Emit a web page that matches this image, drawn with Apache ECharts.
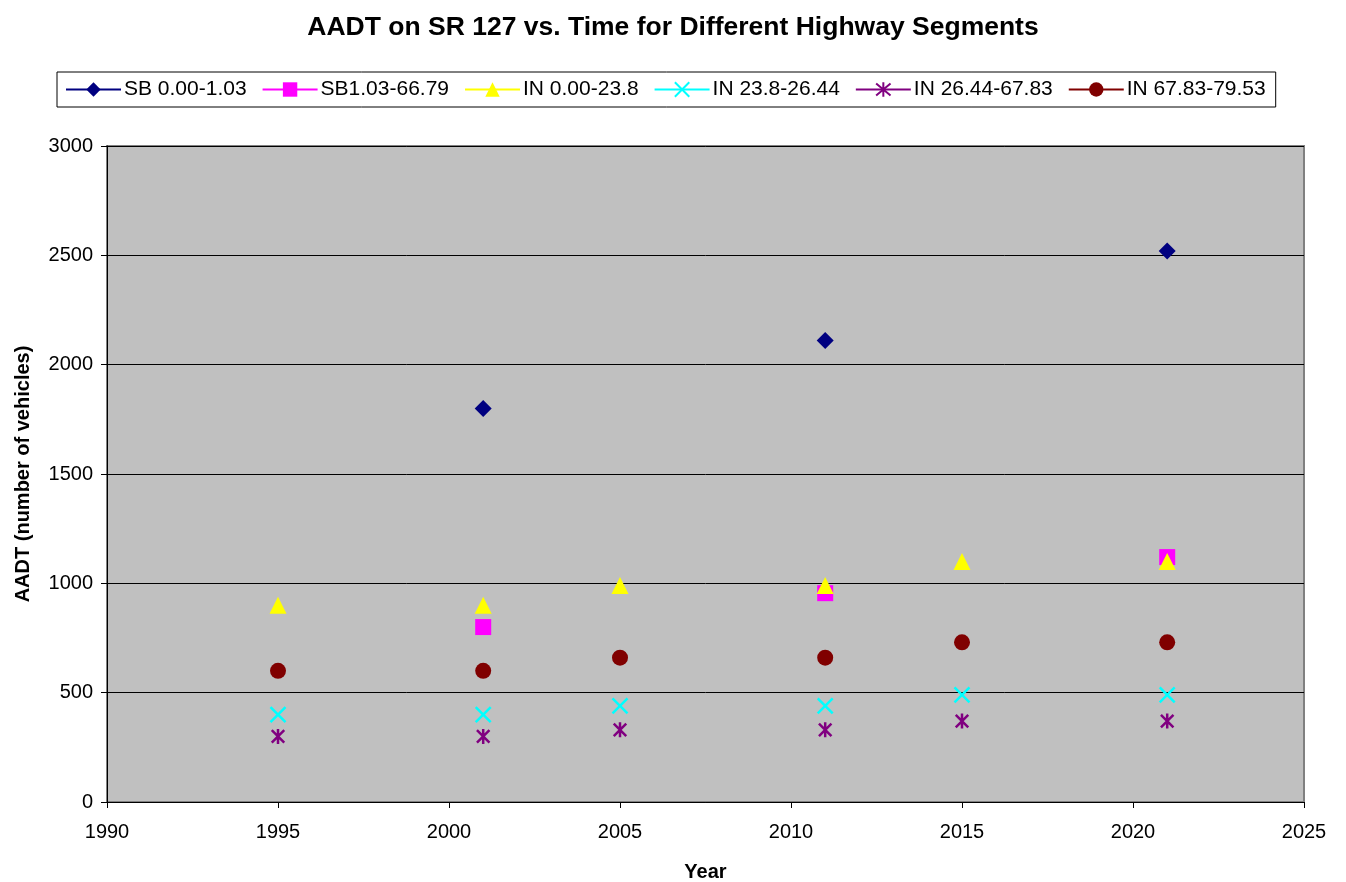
<!DOCTYPE html>
<html>
<head>
<meta charset="utf-8">
<script src="https://cdn.jsdelivr.net/npm/echarts@6/dist/echarts.min.js"></script>
<style>
  html, body { margin: 0; padding: 0; background: #fff; }
  #chart { width: 1346px; height: 882px; }
</style>
</head>
<body>
<div id="chart"></div>
<script>
const chart = echarts.init(document.getElementById('chart'));
const font = '"Liberation Sans", Arial, sans-serif';

const seriesNames = ['SB 0.00-1.03', 'SB1.03-66.79', 'IN 0.00-23.8', 'IN 23.8-26.44', 'IN 26.44-67.83', 'IN 67.83-79.53'];
const colors = ['#000080', '#FF00FF', '#FFFF00', '#00FFFF', '#800080', '#800000'];

const yearsSB = [2001, 2011, 2021];
const yearsIN = [1995, 2001, 2005, 2011, 2015, 2021];

const sb0 = [1800, 2110, 2520];
const sb1 = [800, 955, 1120];
const in0 = [900, 900, 990, 990, 1100, 1100];
const in1 = [400, 400, 440, 440, 490, 490];
const in2 = [300, 300, 330, 330, 370, 370];
const in3 = [600, 600, 660, 660, 730, 730];

const pair = (years, vals) => years.map((y, i) => [y, vals[i]]);

const crossPath = 'path://M0,0L10,10M10,0L0,10';
const starPath = 'path://M0,0L10,10M10,0L0,10M5,-1L5,11';

const mk = (i, data, symbol, size, stroke) => ({
  name: seriesNames[i],
  type: 'line',
  data: data,
  symbol: symbol,
  symbolSize: size,
  symbolKeepAspect: true,
  showAllSymbol: true,
  lineStyle: { opacity: 0, width: 2, color: colors[i] },
  itemStyle: stroke
    ? { color: 'rgba(0,0,0,0)', borderColor: colors[i], borderWidth: 2.5 }
    : { color: colors[i], borderWidth: 0 },
  emphasis: { disabled: true },
  z: 3
});

chart.setOption({
  animation: false,
  title: {
    text: 'AADT on SR 127 vs. Time for Different Highway Segments',
    left: 'center',
    top: 9,
    textStyle: { fontFamily: font, fontSize: 26.5, fontWeight: 'bold', color: '#000' }
  },
  legend: {
    left: 57,
    top: 72,
    width: 1221,
    height: 34,
    padding: [7, 10, 7, 8],
    itemGap: 15,
    itemWidth: 55,
    itemHeight: 18,
    borderColor: '#000',
    borderWidth: 1,
    lineStyle: { opacity: 1, width: 2 },
    textStyle: { fontFamily: font, fontSize: 21, color: '#000', padding: [0, 0, 0, -2] },
    data: seriesNames
  },
  grid: {
    left: 107, right: 42, top: 146, bottom: 80,
    outerBoundsMode: 'none',
    containLabel: false,
    show: true,
    backgroundColor: '#C0C0C0',
    borderColor: '#808080',
    borderWidth: 2
  },
  xAxis: {
    type: 'value',
    min: 1990, max: 2025, interval: 5,
    name: 'Year',
    nameLocation: 'middle',
    nameGap: 60,
    nameTextStyle: { fontFamily: font, fontSize: 20, fontWeight: 'bold', color: '#000' },
    axisLine: { show: true, lineStyle: { color: '#000', width: 1 } },
    axisTick: { show: true, length: 6, lineStyle: { color: '#000' } },
    axisLabel: { fontFamily: font, fontSize: 20, color: '#000', margin: 20, formatter: (v) => String(v) },
    splitLine: { show: false }
  },
  yAxis: {
    type: 'value',
    min: 0, max: 3000, interval: 500,
    name: 'AADT (number of vehicles)',
    nameLocation: 'middle',
    nameGap: 74,
    nameTextStyle: { fontFamily: font, fontSize: 20, fontWeight: 'bold', color: '#000' },
    axisLine: { show: true, lineStyle: { color: '#000', width: 1 } },
    axisTick: { show: true, length: 6, lineStyle: { color: '#000' } },
    axisLabel: { fontFamily: font, fontSize: 20, color: '#000', margin: 14, formatter: (v) => String(v) },
    splitLine: { show: true, lineStyle: { color: '#000', width: 1 } }
  },
  series: [
    mk(0, pair(yearsSB, sb0), 'diamond', 17),
    mk(1, pair(yearsSB, sb1), 'rect', 16),
    mk(2, pair(yearsIN, in0), 'triangle', 17),
    mk(3, pair(yearsIN, in1), crossPath, 15, true),
    mk(4, pair(yearsIN, in2), starPath, 15, true),
    mk(5, pair(yearsIN, in3), 'circle', 16)
  ]
});

window.addEventListener('resize', () => chart.resize());
</script>
</body>
</html>
